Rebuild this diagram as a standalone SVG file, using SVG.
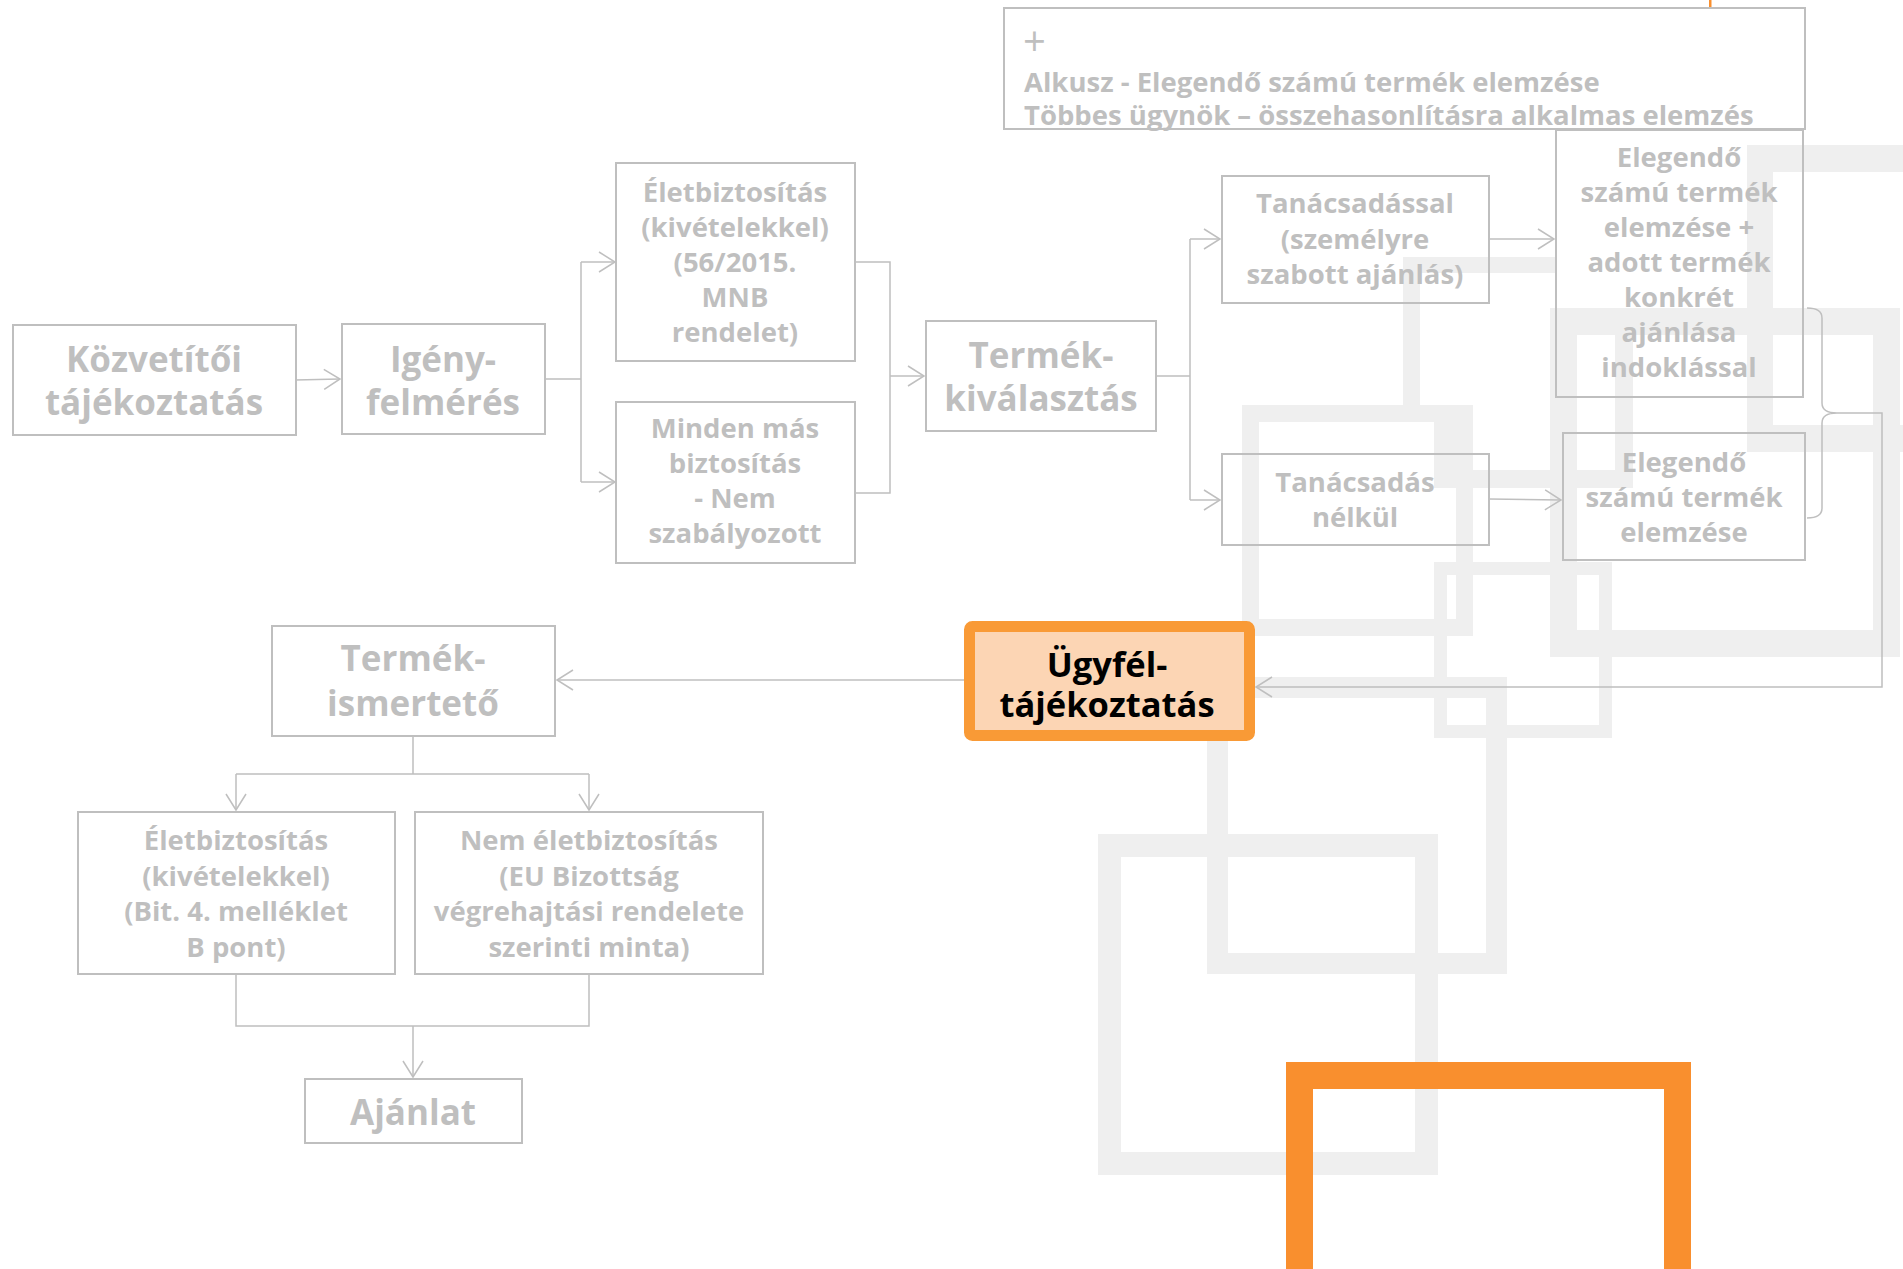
<svg xmlns="http://www.w3.org/2000/svg" width="1903" height="1269" viewBox="0 0 1903 1269">
<defs>
<style>
.bg{fill:none;stroke:#efefef}
.bgf{fill:#efefef}
.box{fill:none;stroke:#bfbfbf;stroke-width:2}
.t{font-family:"Open Sans","Noto Sans",sans-serif;font-weight:700;fill:#bfbfbf;text-anchor:middle}
.big{font-size:35px}
.med{font-size:27.5px}
.top{font-family:"Open Sans","Noto Sans",sans-serif;font-weight:700;fill:#bfbfbf;font-size:27.5px}
.plus{font-family:"Open Sans","Noto Sans",sans-serif;font-weight:400;fill:#bfbfbf;font-size:40px}
.blk{font-family:"Open Sans","Noto Sans",sans-serif;font-weight:700;fill:#000;text-anchor:middle;font-size:34.5px}
.c{fill:none;stroke:#bfbfbf;stroke-width:1.5}
</style>
<marker id="arr" markerUnits="userSpaceOnUse" markerWidth="20" markerHeight="24" viewBox="-18 -12 20 24" refX="0" refY="0" orient="auto">
<path d="M-16,-10 L0,0 L-16,10" fill="none" stroke="#bfbfbf" stroke-width="1.5"/>
</marker>
</defs>
<rect width="1903" height="1269" fill="#fff"/>
<g id="background">
<rect class="bgf" x="1747" y="145" width="156" height="27"/>
<rect class="bgf" x="1747" y="145" width="26" height="307"/>
<rect class="bgf" x="1747" y="425" width="156" height="27"/>
<rect class="bg" x="1563.5" y="321.5" width="323" height="322" stroke-width="27"/>
<rect class="bgf" x="1403" y="257" width="17" height="148"/>
<rect class="bgf" x="1403" y="257" width="153" height="16"/>
<rect class="bgf" x="1473" y="470" width="160" height="18"/>
<rect class="bgf" x="1615" y="308" width="18" height="180"/>
<rect class="bgf" x="1434" y="406" width="22" height="82"/>
<rect class="bg" x="1250.5" y="413.5" width="214" height="214" stroke-width="17"/>
<rect class="bg" x="1440.5" y="568.5" width="165" height="163" stroke-width="13"/>
<rect class="bg" x="1217.5" y="687.5" width="279" height="276" stroke-width="21"/>
<rect class="bg" x="1109.5" y="845.5" width="317" height="318" stroke-width="23"/>
<rect x="1299.5" y="1075.5" width="378" height="300" fill="none" stroke="#f98f2e" stroke-width="27"/>
<rect x="1709" y="0" width="2.5" height="9" fill="#f98f2e"/>
</g>
<g id="connectors">
<path class="c" d="M295,380 L340,379" marker-end="url(#arr)"/>
<path class="c" d="M545,379 H581 M581,262 V482"/>
<path class="c" d="M581,262 H615" marker-end="url(#arr)"/>
<path class="c" d="M581,482 H615" marker-end="url(#arr)"/>
<path class="c" d="M855,262 H890 V493 H855"/>
<path class="c" d="M890,376 H924" marker-end="url(#arr)"/>
<path class="c" d="M1156,376 H1190 M1190,239 V500"/>
<path class="c" d="M1190,239 H1220" marker-end="url(#arr)"/>
<path class="c" d="M1190,500 H1220" marker-end="url(#arr)"/>
<path class="c" d="M1489,239 H1554" marker-end="url(#arr)"/>
<path class="c" d="M1489,499 L1561,500" marker-end="url(#arr)"/>
<path class="c" d="M1807,308 Q1822,308 1822,318 V403 Q1822,413 1837,413 Q1822,413 1822,423 V508 Q1822,518 1807,518"/>
<path class="c" d="M1837,413 H1882 V687 H1256" marker-end="url(#arr)"/>
<path class="c" d="M964,680 H557" marker-end="url(#arr)"/>
<path class="c" d="M413,736 V774 M236,774 H589 M236,774 V810" marker-end="url(#arr)"/>
<path class="c" d="M589,774 V810" marker-end="url(#arr)"/>
<path class="c" d="M236,974 V1026 H589 V974 M413,1026 V1077" marker-end="url(#arr)"/>
</g>
<g id="node-top">
<rect class="box" x="1004" y="8" width="801" height="121"/>
<text class="plus" x="1023" y="56">+</text>
<text class="top" x="1024" y="92">Alkusz - Elegendő számú termék elemzése</text>
<text class="top" x="1024" y="125">Többes ügynök – összehasonlításra alkalmas elemzés</text>
</g>
<g id="node-kozvetitoi">
<rect class="box" x="13" y="325" width="283" height="110"/>
<text class="t big" x="154" y="372">Közvetítői</text>
<text class="t big" x="154" y="415">tájékoztatás</text>
</g>
<g id="node-igeny">
<rect class="box" x="342" y="324" width="203" height="110"/>
<text class="t big" x="443" y="372">Igény-</text>
<text class="t big" x="443" y="415">felmérés</text>
</g>
<g id="node-elet1">
<rect class="box" x="616" y="163" width="239" height="198"/>
<text class="t med" x="735" y="202">Életbiztosítás</text>
<text class="t med" x="735" y="237">(kivételekkel)</text>
<text class="t med" x="735" y="272">(56/2015.</text>
<text class="t med" x="735" y="307">MNB</text>
<text class="t med" x="735" y="342">rendelet)</text>
</g>
<g id="node-minden">
<rect class="box" x="616" y="402" width="239" height="161"/>
<text class="t med" x="735" y="438">Minden más</text>
<text class="t med" x="735" y="473">biztosítás</text>
<text class="t med" x="735" y="508">- Nem</text>
<text class="t med" x="735" y="543">szabályozott</text>
</g>
<g id="node-termekvalasztas">
<rect class="box" x="926" y="321" width="230" height="110"/>
<text class="t big" x="1041" y="368">Termék-</text>
<text class="t big" x="1041" y="411">kiválasztás</text>
</g>
<g id="node-tanacsadassal">
<rect class="box" x="1222" y="176" width="267" height="127"/>
<text class="t med" x="1355" y="213">Tanácsadással</text>
<text class="t med" x="1355" y="249">(személyre</text>
<text class="t med" x="1355" y="284">szabott ajánlás)</text>
</g>
<g id="node-nelkul">
<rect class="box" x="1222" y="454" width="267" height="91"/>
<text class="t med" x="1355" y="492">Tanácsadás</text>
<text class="t med" x="1355" y="527">nélkül</text>
</g>
<g id="node-elegendo-plus">
<rect class="box" x="1556" y="130" width="247" height="267"/>
<text class="t med" x="1679" y="167">Elegendő</text>
<text class="t med" x="1679" y="202">számú termék</text>
<text class="t med" x="1679" y="237">elemzése +</text>
<text class="t med" x="1679" y="272">adott termék</text>
<text class="t med" x="1679" y="307">konkrét</text>
<text class="t med" x="1679" y="342">ajánlása</text>
<text class="t med" x="1679" y="377">indoklással</text>
</g>
<g id="node-elegendo">
<rect class="box" x="1563" y="433" width="242" height="127"/>
<text class="t med" x="1684" y="472">Elegendő</text>
<text class="t med" x="1684" y="507">számú termék</text>
<text class="t med" x="1684" y="542">elemzése</text>
</g>
<g id="node-ugyfel">
<rect x="969.5" y="626.5" width="280" height="109" rx="3" fill="#fcd5b4" stroke="#f99a36" stroke-width="11"/>
<text class="blk" x="1107" y="677">Ügyfél-</text>
<text class="blk" x="1107" y="717">tájékoztatás</text>
</g>
<g id="node-termekismerteto">
<rect class="box" x="272" y="626" width="283" height="110"/>
<text class="t big" x="413" y="671">Termék-</text>
<text class="t big" x="413" y="716">ismertető</text>
</g>
<g id="node-elet2">
<rect class="box" x="78" y="812" width="317" height="162"/>
<text class="t med" x="236" y="850">Életbiztosítás</text>
<text class="t med" x="236" y="886">(kivételekkel)</text>
<text class="t med" x="236" y="921">(Bit. 4. melléklet</text>
<text class="t med" x="236" y="957">B pont)</text>
</g>
<g id="node-nemelet">
<rect class="box" x="415" y="812" width="348" height="162"/>
<text class="t med" x="589" y="850">Nem életbiztosítás</text>
<text class="t med" x="589" y="886">(EU Bizottság</text>
<text class="t med" x="589" y="921">végrehajtási rendelete</text>
<text class="t med" x="589" y="957">szerinti minta)</text>
</g>
<g id="node-ajanlat">
<rect class="box" x="305" y="1079" width="217" height="64"/>
<text class="t big" x="413" y="1125">Ajánlat</text>
</g>
</svg>
